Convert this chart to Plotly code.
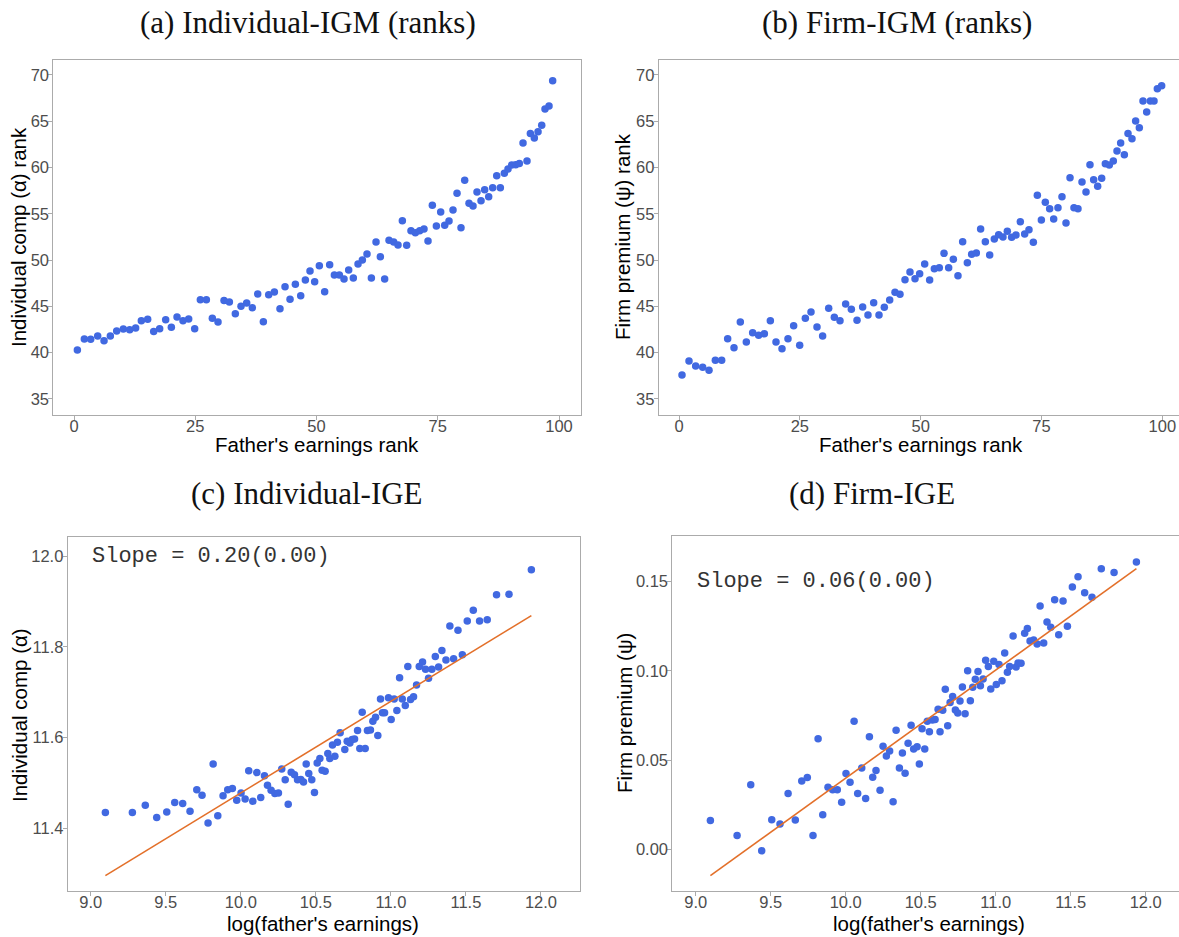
import plotly.graph_objects as go

# ---------------- Panel (a): Individual-IGM (ranks) ----------------
a_x = [0.69, 2.13, 3.44, 4.88, 6.19, 7.49, 8.80, 10.17, 11.48, 12.71, 13.88, 15.19, 16.43, 17.66,
       18.90, 20.07, 21.24, 22.47, 23.64, 24.88, 26.05, 27.29, 28.52, 29.69, 30.93, 32.03, 33.26,
       34.43, 35.60, 36.77, 37.87, 39.04, 40.14, 41.31, 42.47, 43.51, 44.54, 45.64, 46.74, 47.70,
       48.66, 49.62, 50.58, 51.68, 52.71, 53.68, 54.71, 55.67, 56.63, 57.59, 58.56, 59.45, 60.41,
       61.31, 62.27, 63.16, 64.05, 64.95, 65.91, 66.80, 67.70, 68.59, 69.48, 70.38, 71.27, 72.16,
       72.99, 73.88, 74.71, 75.60, 76.43, 77.32, 78.14, 78.97, 79.79, 80.55, 81.44, 82.27, 83.09,
       83.92, 84.67, 85.50, 86.32, 87.15, 87.90, 88.73, 89.48, 90.24, 91.07, 91.82, 92.58, 93.40,
       94.09, 94.91, 95.67, 96.43, 97.11, 97.94, 98.69]
a_y = [40.29, 41.48, 41.44, 41.80, 41.30, 41.80, 42.34, 42.56, 42.48, 42.66, 43.46, 43.60, 42.30, 42.59,
       43.56, 42.74, 43.85, 43.46, 43.64, 42.59, 45.73, 45.73, 43.71, 43.31, 45.65, 45.47, 44.21,
       45.01, 45.37, 44.86, 46.34, 43.35, 46.27, 46.55, 44.75, 47.13, 45.76, 47.38, 46.16, 47.85,
       48.82, 47.67, 49.40, 46.59, 49.51, 48.39, 48.39, 47.96, 48.93, 48.07, 49.58, 50.01, 50.66,
       48.07, 51.96, 50.37, 47.96, 52.14, 51.96, 51.63, 54.26, 51.60, 53.18, 52.96, 53.18, 53.36,
       52.07, 55.92, 53.69, 55.20, 53.76, 54.22, 55.41, 57.21, 53.50, 58.62, 56.13, 55.84, 57.36,
       56.42, 57.61, 56.85, 57.82, 59.12, 57.82, 59.37, 59.84, 60.27, 60.31, 60.45, 62.65, 60.71,
       63.69, 63.19, 63.87, 64.56, 66.32, 66.65, 69.38]

# ---------------- Panel (b): Firm-IGM (ranks) ----------------
b_x = [0.62, 2.07, 3.45, 4.90, 6.21, 7.52, 8.83, 10.07, 11.38, 12.69, 13.93, 15.24, 16.48, 17.66,
       18.90, 20.07, 21.31, 22.55, 23.72, 24.97, 26.14, 27.31, 28.55, 29.72, 30.97, 32.14, 33.31,
       34.48, 35.66, 36.83, 38.00, 39.10, 40.28, 41.38, 42.48, 43.59, 44.69, 45.72, 46.76, 47.79,
       48.83, 49.79, 50.83, 51.86, 52.83, 53.86, 54.83, 55.79, 56.76, 57.72, 58.69, 59.66, 60.55,
       61.52, 62.41, 63.38, 64.28, 65.24, 66.14, 67.03, 67.93, 68.83, 69.72, 70.62, 71.52, 72.41,
       73.31, 74.14, 74.97, 75.79, 76.69, 77.52, 78.41, 79.24, 80.07, 80.90, 81.72, 82.55, 83.38,
       84.21, 85.03, 85.79, 86.62, 87.45, 88.21, 89.03, 89.86, 90.62, 91.38, 92.14, 92.90, 93.72,
       94.48, 95.24, 96.00, 96.76, 97.52, 98.28, 98.97, 99.86]
b_y = [37.59, 39.10, 38.56, 38.42, 38.09, 39.17, 39.17, 41.51, 40.54, 43.31, 41.15, 42.16, 41.87, 42.05,
       43.46, 41.15, 40.43, 41.51, 42.92, 40.79, 43.71, 44.39, 42.77, 41.80, 44.79, 43.82, 43.46,
       45.26, 44.68, 43.49, 44.93, 44.07, 45.40, 44.07, 44.90, 45.69, 46.52, 46.30, 47.89, 48.71,
       47.99, 48.53, 49.58, 47.85, 49.07, 49.18, 50.73, 49.18, 50.08, 48.32, 51.99, 49.72, 50.62,
       50.77, 53.36, 51.99, 50.55, 52.28, 52.75, 52.50, 53.11, 52.46, 52.71, 54.15, 52.82, 53.29,
       51.92, 57.00, 54.33, 56.24, 55.56, 54.44, 55.66, 56.85, 54.01, 58.91, 55.66, 55.56, 58.44,
       57.36, 60.31, 58.69, 57.97, 58.83, 60.42, 60.27, 60.71, 61.79, 62.65, 61.39, 63.69, 63.12,
       65.03, 64.31, 67.19, 66.00, 67.19, 67.19, 68.52, 68.84]

# ---------------- Panel (c): Individual-IGE ----------------
c_x = [9.098, 9.278, 9.364, 9.440, 9.507, 9.560, 9.613, 9.662, 9.707, 9.742, 9.782, 9.816, 9.847,
       9.882, 9.913, 9.944, 9.973, 10.002, 10.029, 10.053, 10.080, 10.107, 10.133, 10.158, 10.178,
       10.202, 10.227, 10.251, 10.273, 10.296, 10.316, 10.336, 10.358, 10.378, 10.400, 10.418,
       10.436, 10.453, 10.473, 10.491, 10.509, 10.527, 10.542, 10.562, 10.580, 10.593, 10.611,
       10.627, 10.644, 10.662, 10.693, 10.709, 10.727, 10.742, 10.758, 10.778, 10.793, 10.809,
       10.829, 10.844, 10.864, 10.880, 10.898, 10.913, 10.931, 10.944, 10.958, 10.984, 11.002,
       11.022, 11.040, 11.058, 11.076, 11.096, 11.113, 11.131, 11.151, 11.171, 11.189, 11.211,
       11.231, 11.251, 11.273, 11.296, 11.318, 11.340, 11.367, 11.393, 11.418, 11.447, 11.476,
       11.509, 11.549, 11.591, 11.642, 11.704, 11.787, 11.936]
c_y = [11.435, 11.435, 11.451, 11.424, 11.436, 11.457, 11.455, 11.438, 11.485, 11.473, 11.412, 11.542,
       11.428, 11.472, 11.485, 11.488, 11.462, 11.478, 11.465, 11.527, 11.460, 11.523, 11.468,
       11.516, 11.495, 11.484, 11.477, 11.478, 11.531, 11.507, 11.453, 11.524, 11.518, 11.507,
       11.508, 11.502, 11.542, 11.521, 11.507, 11.479, 11.544, 11.554, 11.528, 11.526, 11.565,
       11.554, 11.584, 11.559, 11.590, 11.611, 11.574, 11.592, 11.588, 11.596, 11.597, 11.616,
       11.576, 11.656, 11.576, 11.616, 11.617, 11.636, 11.645, 11.605, 11.685, 11.655, 11.655,
       11.688, 11.640, 11.685, 11.660, 11.732, 11.685, 11.671, 11.757, 11.684, 11.690, 11.716,
       11.757, 11.767, 11.751, 11.731, 11.751, 11.779, 11.756, 11.792, 11.771, 11.846, 11.774,
       11.837, 11.783, 11.857, 11.881, 11.857, 11.860, 11.915, 11.916, 11.970]
c_fit_x = [9.098, 11.936]
c_fit_y = [11.296, 11.869]
c_label = "Slope = 0.20(0.00)"

# ---------------- Panel (d): Firm-IGE ----------------
d_x = [9.098, 9.276, 9.367, 9.440, 9.507, 9.562, 9.616, 9.664, 9.707, 9.744, 9.782, 9.816, 9.847,
       9.882, 9.913, 9.944, 9.973, 10.002, 10.029, 10.056, 10.080, 10.107, 10.133, 10.158, 10.180,
       10.202, 10.229, 10.249, 10.271, 10.293, 10.316, 10.336, 10.358, 10.378, 10.396, 10.416,
       10.436, 10.453, 10.476, 10.491, 10.509, 10.527, 10.544, 10.558, 10.578, 10.596, 10.616,
       10.629, 10.647, 10.664, 10.680, 10.696, 10.713, 10.731, 10.747, 10.762, 10.778, 10.796,
       10.813, 10.831, 10.847, 10.864, 10.882, 10.898, 10.916, 10.933, 10.951, 10.967, 10.987,
       11.004, 11.022, 11.042, 11.060, 11.078, 11.093, 11.116, 11.136, 11.149, 11.169, 11.193,
       11.211, 11.229, 11.253, 11.276, 11.296, 11.320, 11.342, 11.367, 11.393, 11.420, 11.449,
       11.478, 11.511, 11.549, 11.593, 11.642, 11.704, 11.789, 11.938]
d_y = [0.0161, 0.0077, 0.0362, -0.0009, 0.0166, 0.0142, 0.0312, 0.0164, 0.0383, 0.0402, 0.0077, 0.0620,
       0.0194, 0.0347, 0.0334, 0.0334, 0.0263, 0.0424, 0.0375, 0.0717, 0.0312, 0.0456, 0.0284,
       0.0631, 0.0404, 0.0441, 0.0331, 0.0577, 0.0523, 0.0551, 0.0267, 0.0667, 0.0456, 0.0540,
       0.0426, 0.0594, 0.0695, 0.0562, 0.0575, 0.0478, 0.0676, 0.0562, 0.0717, 0.0658, 0.0725,
       0.0727, 0.0785, 0.0658, 0.0779, 0.0897, 0.0693, 0.0822, 0.0856, 0.0781, 0.0764, 0.0831,
       0.0910, 0.0760, 0.1001, 0.0833, 0.0908, 0.0953, 0.0996, 0.0917, 0.0955, 0.1059, 0.1024,
       0.0899, 0.1054, 0.0923, 0.1035, 0.0945, 0.1100, 0.0992, 0.1024, 0.1196, 0.1022, 0.1044,
       0.1042, 0.1211, 0.1237, 0.1168, 0.1173, 0.1151, 0.1364, 0.1156, 0.1274, 0.1244, 0.1399,
       0.1203, 0.1392, 0.1250, 0.1470, 0.1528, 0.1438, 0.1412, 0.1573, 0.1552, 0.1610]
d_fit_x = [9.098, 11.938]
d_fit_y = [-0.0148, 0.1573]
d_label = "Slope = 0.06(0.00)"

rank_ticks = [0, 25, 50, 75, 100]
rank_yticks = [35, 40, 45, 50, 55, 60, 65, 70]
log_xticks = [9.0, 9.5, 10.0, 10.5, 11.0, 11.5, 12.0]
c_yticks = [11.4, 11.6, 11.8, 12.0]
d_yticks = [0.00, 0.05, 0.10, 0.15]

titles = ["(a) Individual-IGM (ranks)", "(b) Firm-IGM (ranks)",
          "(c) Individual-IGE", "(d) Firm-IGE"]
xtitles = ["Father's earnings rank", "Father's earnings rank",
           "log(father's earnings)", "log(father's earnings)"]
ytitles = ["Individual comp (\u03b1) rank", "Firm premium (\u03c8) rank",
           "Individual comp (\u03b1)", "Firm premium (\u03c8)"]

# ---------------- Figure ----------------
W, H = 1179, 937
BLUE = "#4169E1"
ORANGE = "#E3702A"
FRAME = "#ABABAB"
TICKCOL = "#4D4D4D"

def px(x):
    return x / W

def py(y):
    return 1 - y / H

fig = go.Figure()

# domains in pixels: (left, right, top, bottom)
dom = {
    1: (53.3, 580.7, 59.7, 414.7),
    2: (658.7, 1179.0, 59.7, 414.7),
    3: (67.7, 580.0, 536.7, 891.0),
    4: (672.3, 1179.0, 536.0, 891.0),
}
xranges = {1: [-4.27, 104.47], 2: [-4.2, 103.45], 3: [8.847, 12.26], 4: [8.844, 12.222]}
yranges = {1: [33.30, 71.65], 2: [33.30, 71.65], 3: [11.262, 12.043], 4: [-0.0234, 0.1756]}
xt = {1: rank_ticks, 2: rank_ticks, 3: log_xticks, 4: log_xticks}
yt = {1: rank_yticks, 2: rank_yticks, 3: c_yticks, 4: d_yticks}
xfmt = {1: "d", 2: "d", 3: ".1f", 4: ".1f"}
yfmt = {1: "d", 2: "d", 3: ".1f", 4: ".2f"}

data = {1: (a_x, a_y), 2: (b_x, b_y), 3: (c_x, c_y), 4: (d_x, d_y)}

for i in range(1, 5):
    xa = "x" if i == 1 else f"x{i}"
    ya = "y" if i == 1 else f"y{i}"
    l, r, t, b = dom[i]
    axis_common = dict(
        showgrid=False, zeroline=False, showline=True, linecolor=FRAME, linewidth=1,
        mirror=True, ticks="outside", ticklen=4, tickwidth=1, tickcolor=FRAME,
        tickfont=dict(family="Liberation Sans, Arial, sans-serif", size=16.5, color=TICKCOL),
    )
    fig.update_layout(**{
        ("xaxis" if i == 1 else f"xaxis{i}"): dict(
            domain=[px(l), px(r)], range=xranges[i], tickvals=xt[i], tickformat=xfmt[i],
            anchor=ya, ticklabelstandoff=-8, **axis_common),
        ("yaxis" if i == 1 else f"yaxis{i}"): dict(
            domain=[py(b), py(t)], range=yranges[i], tickvals=yt[i], tickformat=yfmt[i],
            anchor=xa, ticklabelstandoff=-4, **axis_common),
    })
    xs, ys = data[i]
    fig.add_trace(go.Scatter(x=xs, y=ys, mode="markers", xaxis=xa, yaxis=ya,
                             marker=dict(color=BLUE, size=7.5, line=dict(width=0)),
                             showlegend=False, hoverinfo="skip"))

fig.add_trace(go.Scatter(x=c_fit_x, y=c_fit_y, mode="lines", xaxis="x3", yaxis="y3",
                         line=dict(color=ORANGE, width=1.6), showlegend=False))
fig.add_trace(go.Scatter(x=d_fit_x, y=d_fit_y, mode="lines", xaxis="x4", yaxis="y4",
                         line=dict(color=ORANGE, width=1.6), showlegend=False))

annotations = []
# panel titles
title_pos = [(308, 22), (897, 22), (307, 493), (872, 493)]
for (x, y), txt in zip(title_pos, titles):
    annotations.append(dict(text=txt, x=px(x), y=py(y), xref="paper", yref="paper",
                            xanchor="center", yanchor="middle", showarrow=False,
                            font=dict(family="Liberation Serif, Times New Roman, serif",
                                      size=31, color="#111111")))
# x axis titles
xt_pos = [(317, 444), (921, 444), (323, 923), (929, 923)]
for (x, y), txt in zip(xt_pos, xtitles):
    annotations.append(dict(text=txt, x=px(x), y=py(y), xref="paper", yref="paper",
                            xanchor="center", yanchor="middle", showarrow=False,
                            font=dict(family="Liberation Sans, Arial, sans-serif", size=20.5,
                                      color="#000000")))
# y axis titles
yt_pos = [(18, 237), (622, 237), (19, 715), (624, 713)]
for (x, y), txt in zip(yt_pos, ytitles):
    annotations.append(dict(text=txt, x=px(x), y=py(y), xref="paper", yref="paper",
                            xanchor="center", yanchor="middle", showarrow=False, textangle=-90,
                            font=dict(family="Liberation Sans, Arial, sans-serif", size=20.5,
                                      color="#000000")))
# slope labels
annotations.append(dict(text=c_label, x=8.995, y=12.0, xref="x3", yref="y3",
                        xanchor="left", yanchor="middle", showarrow=False,
                        font=dict(family="Liberation Mono, Courier New, monospace", size=22,
                                  color="#333333")))
annotations.append(dict(text=d_label, x=8.995, y=0.15, xref="x4", yref="y4",
                        xanchor="left", yanchor="middle", showarrow=False,
                        font=dict(family="Liberation Mono, Courier New, monospace", size=22,
                                  color="#333333")))

fig.update_layout(
    width=W, height=H, margin=dict(l=0, r=0, t=0, b=0),
    paper_bgcolor="white", plot_bgcolor="white",
    annotations=annotations, showlegend=False,
)

fig.write_html("out.html")
